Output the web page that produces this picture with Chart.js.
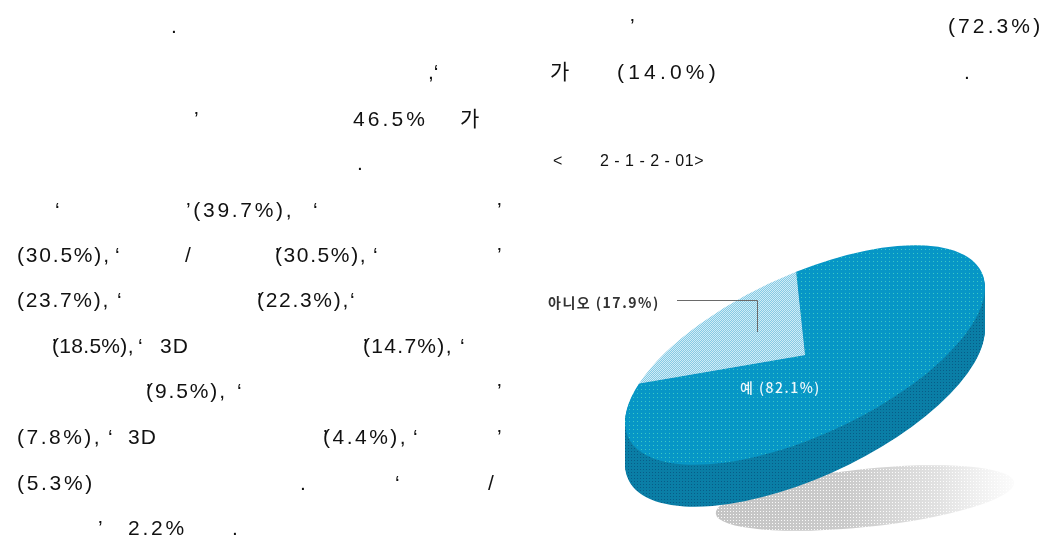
<!DOCTYPE html>
<html lang="ko">
<head>
<meta charset="utf-8">
<title>2-1-2-01</title>
<script src="https://cdn.jsdelivr.net/npm/chart.js@4.4.1/dist/chart.umd.min.js"></script>
<style>
  html, body { margin: 0; padding: 0; background: #fff; }
  body {
    width: 1048px; height: 547px; position: relative; overflow: hidden;
    font-family: "Liberation Sans", Arial, "Noto Sans CJK KR", sans-serif; color: #111;
  }
  #pie { position: absolute; left: 0; top: 0; }
  .t { position: absolute; font-size: 21px; line-height: 21px; white-space: pre; }
  .cap { font-size: 16px; line-height: 16px; }
</style>
</head>
<body>
<canvas id="pie" width="1048" height="547"></canvas>
<div id="text"></div>
<script>
// 응답 비율 (%)
const labels = ['예', '아니오'];
const values = [82.1, 17.9];

// 원판 모양: 기울어진 타원 + 두께
const DISC = { cx: 805, cy: 355, rx: 195, ry: 80, tilt: -25, depth: 42 };

// 본문 조각들 [x, 기준선, 글자, 자간]
const textRuns = [
  [171, 33, '.', 0], [630, 33, '’', 0], [948, 33, '(72.3%)', 3.1],
  [428, 79, ',‘', 0], [550, 79, '가', 0], [617, 79, '(14.0%)', 4.2], [964, 79, '.', 0],
  [194, 126, '’', 0], [353, 126, '46.5%', 3.1], [460, 126, '가', 0],
  [357, 170, '.', 0],
  [55, 217, '‘', 0], [186, 217, '’(39.7%),', 2.7], [313, 217, '‘', 0], [497, 217, '’', 0],
  [17, 262, '(30.5%),', 1.8], [115, 262, '‘', 0], [185, 262, '/', 0], [275, 262, '’', 0], [275, 262, '(30.5%),', 1.6], [373, 262, '‘', 0], [497, 262, '’', 0],
  [17, 307, '(23.7%),', 1.7], [117, 307, '‘', 0], [257, 307, '’', 0], [257, 307, '(22.3%),', 1.7], [350, 307, '‘', 0],
  [52, 353, '’', 0], [52, 353, '(18.5%),', 0.3], [138, 353, '‘', 0], [160, 353, '3D', 1], [363, 353, '’', 0], [363, 353, '(14.7%),', 1.3], [460, 353, '‘', 0],
  [146, 398, '’', 0], [146, 398, '(9.5%),', 1.9], [237, 398, '‘', 0], [497, 398, '’', 0],
  [17, 444, '(7.8%),', 2.5], [108, 444, '‘', 0], [128, 444, '3D', 1], [323, 444, '’', 0], [323, 444, '(4.4%),', 2.5], [413, 444, '‘', 0], [497, 444, '’', 0],
  [17, 490, '(5.3%)', 2.7], [300, 490, '.', 0], [395, 490, '‘', 0], [488, 490, '/', 0],
  [98, 535, '’', 0], [128, 535, '2.2%', 2.8], [232, 535, '.', 0],
];
const captionRuns = [[553, 167, '<', 0], [600, 167, '2 - 1 - 2 - 01>', 0.5]];

const box = document.getElementById('text');
function addRun([x, base, str, sp], cls, size) {
  const el = document.createElement('div');
  el.className = cls;
  el.textContent = str;
  el.style.left = x + 'px';
  el.style.top = (base - size * 0.85) + 'px';
  el.style.letterSpacing = sp + 'px';
  box.appendChild(el);
}
textRuns.forEach(r => addRun(r, 't', 21));
captionRuns.forEach(r => addRun(r, 't cap', 16));

// 점무늬 채우기
function dots(base, dot, size, cells) {
  const c = document.createElement('canvas');
  c.width = size; c.height = size;
  const g = c.getContext('2d');
  g.fillStyle = base;
  g.fillRect(0, 0, size, size);
  g.fillStyle = dot;
  cells.forEach(([x, y]) => g.fillRect(x, y, 1, 1));
  return g.createPattern(c, 'repeat');
}
const topFill = [
  dots('#0796c6', '#3cc8c4', 4, [[1, 1]]),
  dots('#86c9e4', '#cfedf7', 2, [[0, 0], [1, 1]]),
];
const sideFill = [
  dots('#0a7ea6', '#075d88', 3, [[1, 1]]),
  dots('#6fbad6', '#58aacb', 2, [[0, 0]]),
];
const shadowSpeckle = dots('rgba(0,0,0,0)', 'rgba(255,255,255,0.9)', 3, [[1, 1]]);

function discTransform(ctx, arc, dy) {
  ctx.translate(DISC.cx, DISC.cy + dy);
  ctx.rotate(DISC.tilt * Math.PI / 180);
  ctx.scale(DISC.rx / arc.outerRadius, DISC.ry / arc.outerRadius);
  ctx.translate(-arc.x, -arc.y);
}

const pie3d = {
  id: 'pie3d',
  beforeDatasetsDraw(chart) {
    const ctx = chart.ctx;
    const arcs = chart.getDatasetMeta(0).data;
    const ref = arcs[0];

    // 그림자
    ctx.save();
    ctx.beginPath();
    ctx.ellipse(DISC.cx + 60, DISC.cy + 143, 150, 29, -6 * Math.PI / 180, 0, Math.PI * 2);
    const g = ctx.createLinearGradient(715, 0, 1012, 0);
    g.addColorStop(0, 'rgba(196,196,196,1)');
    g.addColorStop(0.45, 'rgba(200,200,200,0.95)');
    g.addColorStop(0.75, 'rgba(205,205,205,0.6)');
    g.addColorStop(1, 'rgba(215,215,215,0.1)');
    ctx.fillStyle = g;
    ctx.fill();
    ctx.fillStyle = shadowSpeckle;
    ctx.fill();
    ctx.restore();

    // 옆면
    for (let k = DISC.depth; k > 0; k--) {
      ctx.save();
      discTransform(ctx, ref, k);
      const inv = ctx.getTransform().inverse();
      arcs.forEach((arc, i) => {
        sideFill[i].setTransform(inv);
        ctx.fillStyle = sideFill[i];
        ctx.beginPath();
        ctx.moveTo(arc.x, arc.y);
        ctx.arc(arc.x, arc.y, arc.outerRadius, arc.startAngle, arc.endAngle);
        ctx.closePath();
        ctx.fill();
      });
      ctx.restore();
    }

    // 윗면은 Chart.js가 그림
    ctx.save();
    discTransform(ctx, ref, 0);
    const inv = ctx.getTransform().inverse();
    topFill.forEach(p => p.setTransform(inv));
  },
  afterDatasetsDraw(chart) {
    chart.ctx.restore();
  },
  afterDraw(chart) {
    const ctx = chart.ctx;
    ctx.save();
    ctx.font = '700 14px "Noto Sans CJK KR"';
    ctx.letterSpacing = '1.5px';
    ctx.textBaseline = 'middle';
    // 아니오
    ctx.fillStyle = '#333';
    ctx.fillText(`${labels[1]} (${values[1].toFixed(1)}%)`, DISC.cx - 257, DISC.cy - 52);
    ctx.strokeStyle = '#6a6a6a';
    ctx.lineWidth = 1;
    ctx.beginPath();
    ctx.moveTo(DISC.cx - 128, DISC.cy - 54.5);
    ctx.lineTo(DISC.cx - 47.5, DISC.cy - 54.5);
    ctx.lineTo(DISC.cx - 47.5, DISC.cy - 23);
    ctx.stroke();
    // 예
    ctx.font = '500 14px "Noto Sans CJK KR"';
    ctx.fillStyle = '#eef8fb';
    ctx.fillText(`${labels[0]} (${values[0].toFixed(1)}%)`, DISC.cx - 65, DISC.cy + 33);
    ctx.restore();
  }
};

new Chart(document.getElementById('pie'), {
  type: 'pie',
  data: {
    labels,
    datasets: [{
      data: values,
      backgroundColor: topFill,
      borderWidth: 0,
    }]
  },
  options: {
    responsive: false,
    animation: false,
    events: [],
    rotation: 8,
    plugins: { legend: { display: false }, tooltip: { enabled: false } },
  },
  plugins: [pie3d],
});
</script>
</body>
</html>
